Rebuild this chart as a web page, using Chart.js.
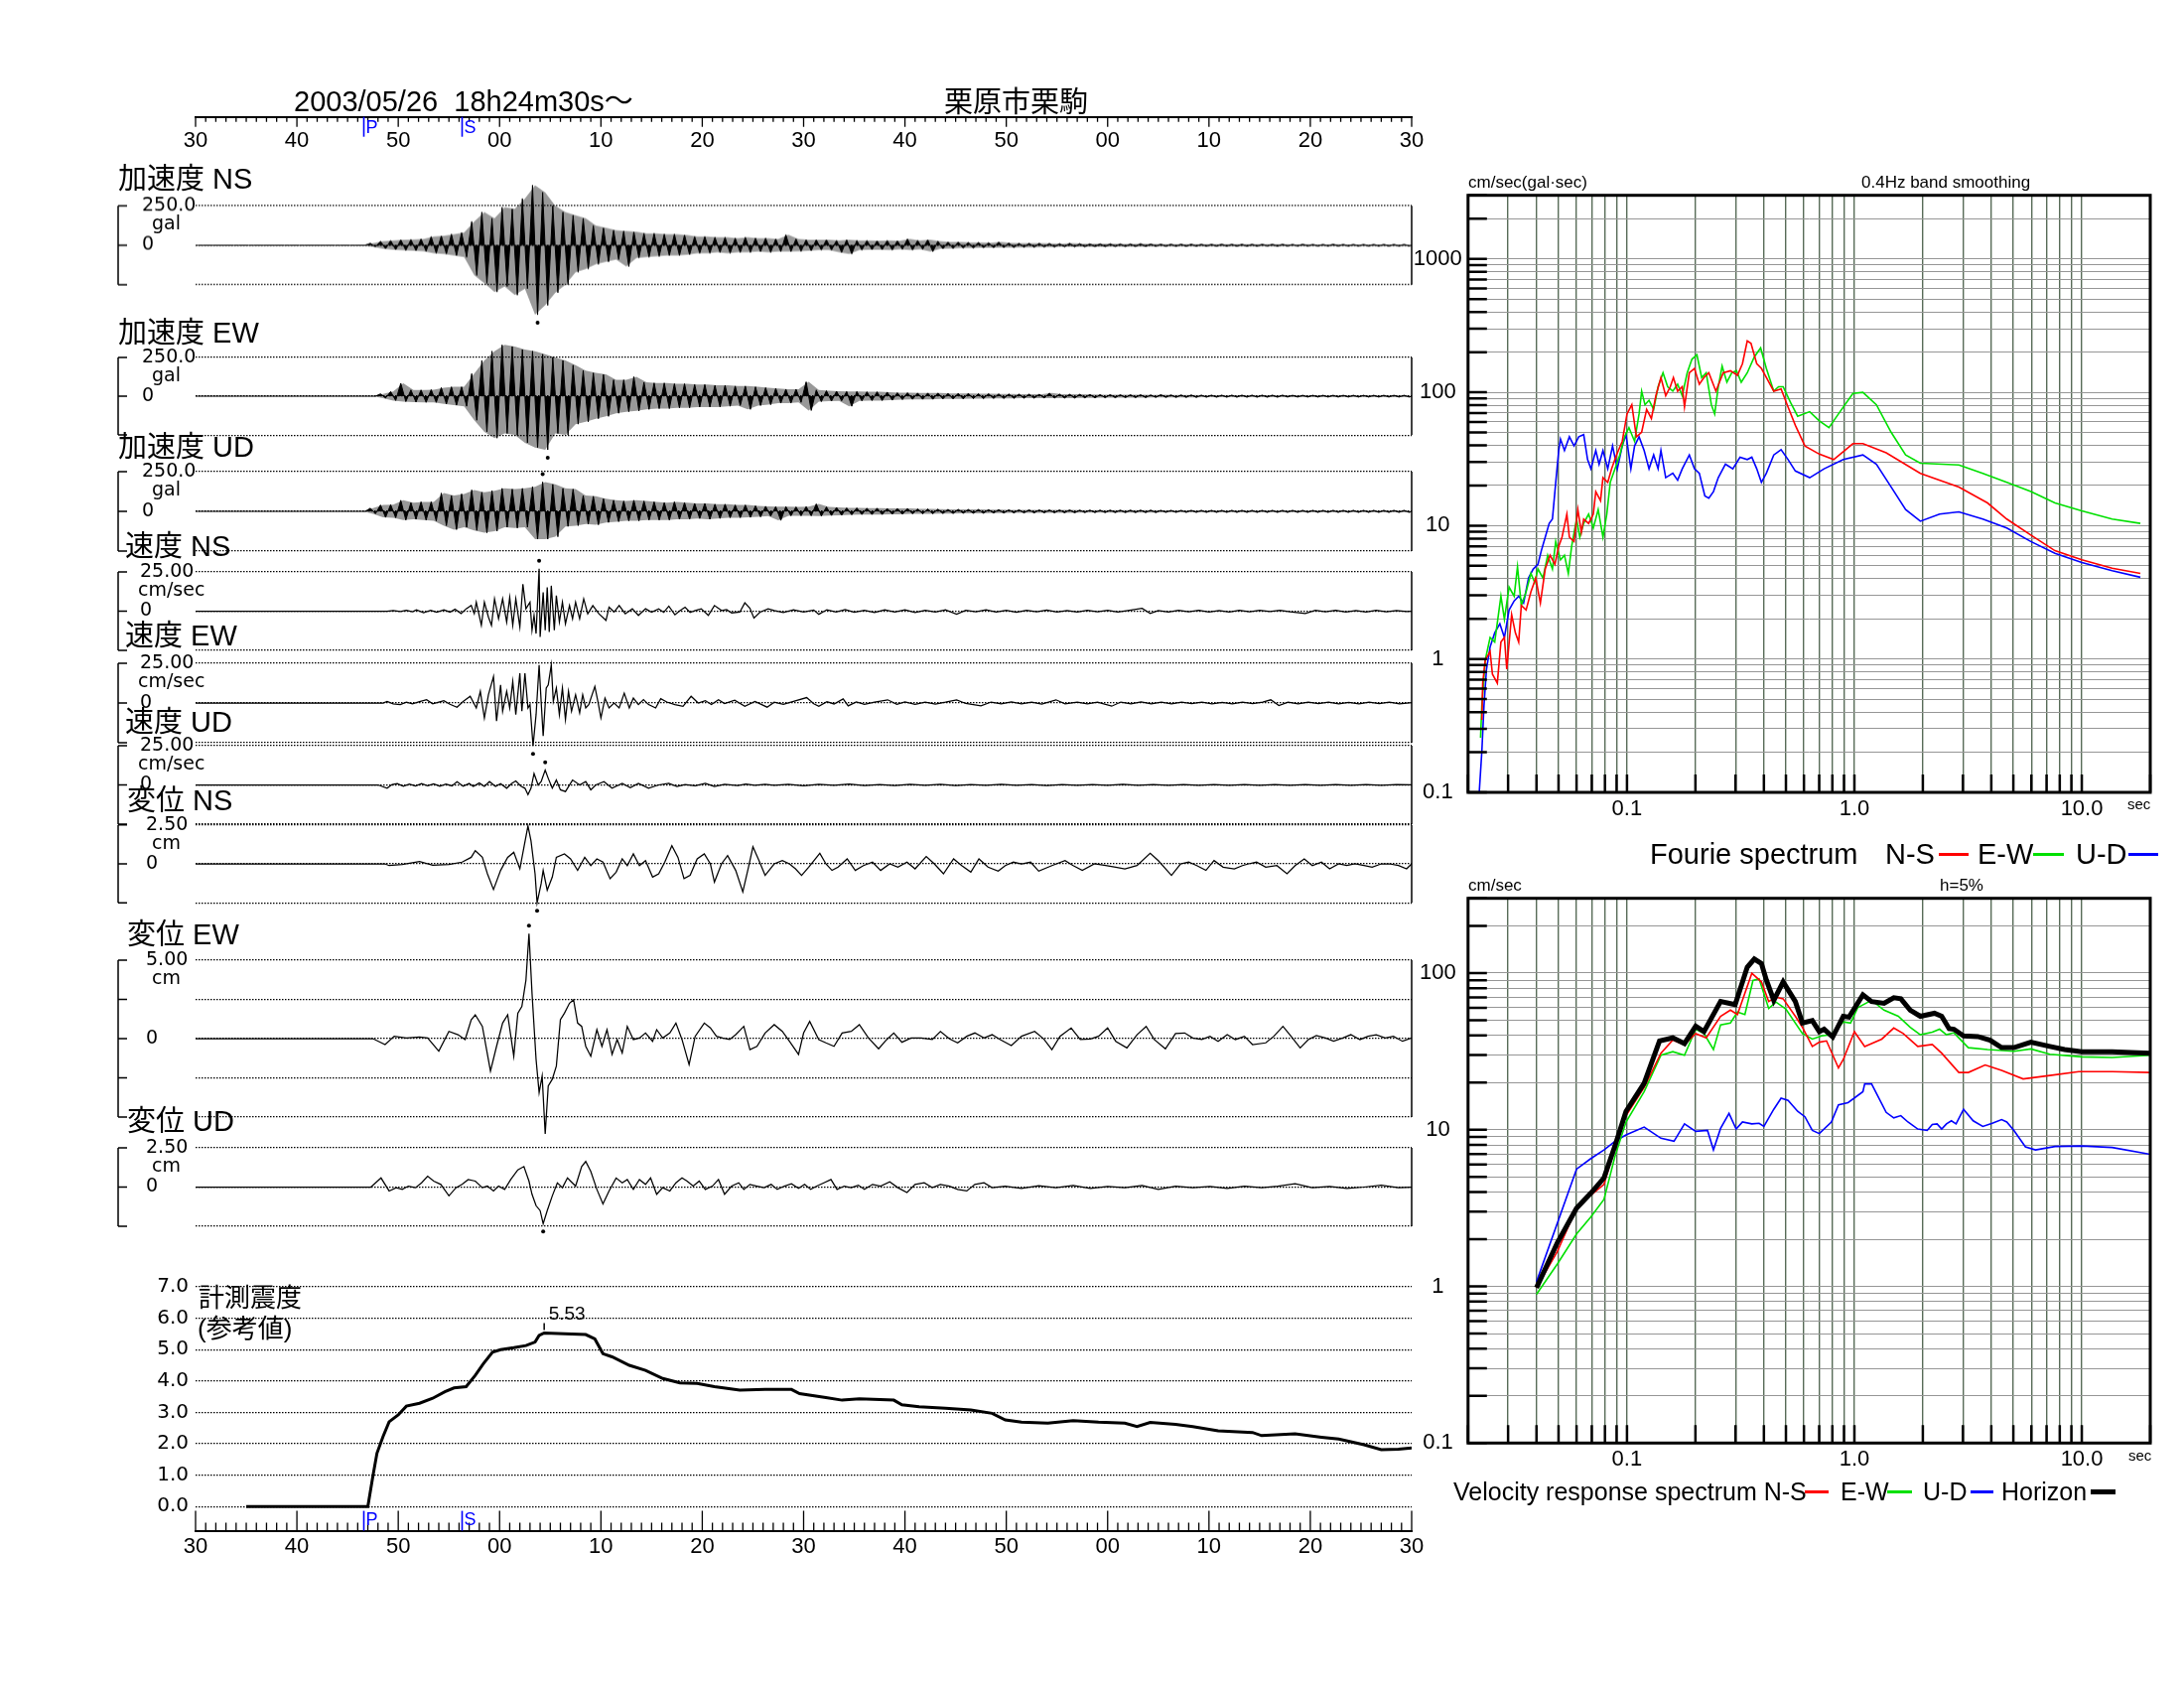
<!DOCTYPE html>
<html lang="ja">
<head>
<meta charset="utf-8">
<title>栗原市栗駒 2003/05/26</title>
<script src="https://cdn.jsdelivr.net/npm/chart.js@4.4.1/dist/chart.umd.min.js"></script>
<style>
  body { margin: 0; background: #fff; }
  #page { position: relative; width: 2200px; height: 1700px; overflow: hidden; background: #fff;
          font-family: "Liberation Sans", "Noto Sans CJK JP", sans-serif; }
  #page canvas { position: absolute; }
  .txt { position: absolute; white-space: pre; line-height: 1; color: #000; z-index: 5; }
  .bar { position: absolute; z-index: 5; }
</style>
</head>
<body>
<div id="page"></div>
<script>
// ---- time axis: seconds after 18h24m30s ----
const timeLabels = ['30','40','50','00','10','20','30','40','50','00','10','20','30'];
const phaseNames = ['P', 'S'];
const phaseTimes = [16.6, 26.3];

// ---- acceleration: per-second upper / lower peaks (gal) ----
const accNsHi = [0,0,0,0,0,0,0,0,0,0, 0,0,0,0,0,0,0,12,25,30,
  35,36,40,55,60,70,80,150,210,170, 240,230,295,380,335,250,210,190,170,125,
  110,95,90,85,75,75,70,70,65,55, 55,50,50,45,50,45,45,40,67,40,
  35,35,35,30,35,30,30,28,30,28, 40,30,35,25,20,20,18,18,16,20,
  14,12,12,12,11,10,12,10,9,9, 9,8,8,10,8,7,7,7,7,6,
  6,7,6,6,6,6,6,6,5,6, 5,5,6,5,5,5,5,5,5,5];
const accNsLo = [0,0,0,0,0,0,0,0,0,0, 0,0,0,0,0,0,0,-10,-22,-28,
  -32,-34,-38,-50,-55,-65,-75,-190,-240,-295, -260,-315,-275,-440,-380,-300,-250,-170,-150,-120,
  -105,-90,-135,-80,-75,-70,-65,-65,-60,-50, -50,-45,-50,-45,-45,-40,-45,-40,-40,-38,
  -35,-30,-30,-45,-55,-30,-28,-28,-30,-25, -30,-25,-40,-22,-20,-18,-18,-16,-16,-15,
  -14,-12,-12,-11,-11,-10,-10,-10,-9,-9, -8,-8,-8,-8,-7,-7,-7,-7,-6,-6,
  -6,-6,-6,-6,-6,-5,-6,-5,-5,-5, -5,-5,-5,-5,-5,-5,-5,-5,-5,-5];
const accEwHi = [0,0,0,0,0,0,0,0,0,0, 0,0,0,0,0,0,0,0,15,30,
  83,40,40,42,55,60,60,145,230,290, 330,320,300,290,270,250,230,200,165,150,
  140,105,105,125,90,85,85,80,80,75, 75,70,70,65,65,60,55,50,45,45,
  92,40,35,32,30,30,28,28,26,22, 22,20,20,20,18,18,18,16,16,15,
  14,13,13,12,20,13,12,12,11,10, 10,9,9,9,8,10,8,8,8,7,
  7,7,7,7,7,7,7,7,6,6, 6,6,6,6,6,6,6,6,6,6];
const accEwLo = [0,0,0,0,0,0,0,0,0,0, 0,0,0,0,0,0,0,0,-12,-28,
  -35,-38,-40,-40,-50,-58,-65,-155,-230,-270, -240,-250,-300,-330,-345,-240,-250,-180,-165,-145,
  -130,-110,-100,-95,-85,-80,-80,-75,-75,-70, -70,-70,-65,-60,-85,-60,-55,-45,-45,-40,
  -92,-35,-32,-30,-65,-30,-28,-28,-26,-22, -20,-20,-20,-18,-18,-18,-16,-16,-15,-15,
  -14,-13,-13,-12,-12,-12,-12,-11,-11,-10, -10,-9,-9,-9,-8,-8,-8,-8,-8,-7,
  -7,-7,-7,-7,-7,-7,-7,-6,-6,-6, -6,-6,-6,-6,-6,-6,-6,-6,-6,-6];
const accUdHi = [0,0,0,0,0,0,0,0,0,0, 0,0,0,0,0,0,0,20,40,42,
  70,55,60,60,115,100,110,135,120,130, 145,140,145,155,185,170,145,140,100,95,
  80,70,65,70,65,60,55,60,55,50, 50,45,45,40,40,35,32,30,30,28,
  30,47,28,25,22,22,20,20,18,18, 18,16,15,14,13,13,12,12,11,11,
  10,10,10,9,9,9,9,8,8,8, 8,8,8,8,8,7,7,7,7,7,
  7,7,7,7,7,7,7,7,7,7, 7,7,7,7,7,7,7,7,7,7];
const accUdLo = [0,0,0,0,0,0,0,0,0,0, 0,0,0,0,0,0,0,-15,-38,-40,
  -55,-50,-55,-60,-90,-115,-100,-120,-135,-125, -100,-105,-100,-175,-175,-160,-95,-90,-80,-85,
  -70,-65,-60,-60,-55,-55,-55,-50,-50,-45, -50,-45,-40,-40,-38,-35,-30,-57,-28,-28,
  -28,-30,-26,-25,-22,-20,-20,-20,-18,-18, -16,-16,-15,-14,-14,-12,-12,-12,-11,-11,
  -10,-10,-10,-9,-9,-9,-9,-8,-8,-8, -8,-8,-8,-8,-8,-7,-7,-7,-7,-7,
  -7,-7,-7,-7,-7,-7,-7,-7,-7,-7, -7,-7,-7,-7,-7,-7,-7,-7,-7,-7];

// ---- velocity (cm/sec): [seconds, value] turning points ----
const velNS = [[0,0],[18.9,0],[19.5,0.4],[20.2,-0.3],[20.8,0.5],[21.4,-0.4],[21.8,0.9],[22.5,-1.0],[23.2,0.6],[23.8,-0.7],[24.5,0.8],[25.1,-0.6],[25.6,1.2],[26.2,-1.5],[26.7,1.5],[27.2,3.6],[27.5,-1.5],[27.7,5.7],[28.2,-9.0],[28.5,5.7],[28.9,-3.8],[29.2,-9.0],[29.5,7.8],[29.9,-4.8],[30.3,7.8],[30.7,-6.9],[31.0,8.8],[31.3,-9.0],[31.6,7.8],[32.0,-10.1],[32.3,17.2],[32.6,1.5],[33.0,5.7],[33.2,-12.2],[33.4,-2.7],[33.6,-14.3],[33.9,27.1],[34.0,-16.4],[34.3,12.0],[34.5,-12.2],[34.7,15.1],[34.9,-13.2],[35.1,16.2],[35.4,-12.2],[35.6,9.9],[35.9,-6.9],[36.2,5.7],[36.5,-8.0],[36.9,3.6],[37.2,-4.8],[37.5,5.7],[37.9,-4.8],[38.3,7.8],[38.7,-1.7],[39.2,3.6],[39.8,-1.7],[40.5,-5.9],[40.8,2.5],[41.3,-0.5],[41.8,3.6],[42.4,-1.7],[43.1,1.5],[43.7,-2.7],[44.4,1.5],[45.0,-0.6],[45.7,1.5],[46.2,-0.8],[46.7,3.2],[47.3,-2.3],[47.8,0.3],[48.3,2.5],[48.8,-0.8],[49.3,0.4],[49.9,1.5],[50.6,-2.7],[51.2,3.6],[51.9,0.4],[52.4,1.0],[52.9,-1.1],[53.7,-0.6],[54.2,5.3],[54.7,1.9],[55.1,-4.4],[55.7,-0.6],[56.5,1.5],[57.1,0.4],[58.0,-0.8],[59.0,0.9],[60.0,-0.5],[61.0,0.7],[61.5,-2.0],[62.3,0.9],[63.2,-0.6],[64.1,1.0],[65.0,-0.7],[66.0,0.6],[67.0,-0.9],[68.0,0.8],[69.0,-0.5],[70.0,0.9],[71.0,-0.8],[72.0,0.6],[73.0,-0.6],[74.0,0.8],[75.1,-2.0],[76.0,0.5],[77.0,-0.4],[78.0,0.8],[79.0,-0.6],[80.0,0.5],[81.0,-0.7],[82.0,0.6],[83.0,-0.4],[84.0,0.7],[85.0,-0.5],[86.0,0.4],[87.0,-0.6],[88.0,0.5],[89.0,-0.4],[90.0,0.6],[91.0,-0.5],[92.0,0.4],[93.4,1.8],[94.2,-1.5],[95.0,0.4],[96.0,-0.5],[97.0,0.6],[98.0,-0.4],[99.0,0.5],[100,-0.5],[101,0.4],[102,-0.6],[103,0.5],[104,-0.4],[105,0.6],[106,-0.3],[107,0.5],[108,-0.4],[109.5,-1.5],[110.5,0.6],[111.5,-0.4],[112.5,0.5],[113.5,-0.5],[114.5,0.4],[115.5,-0.5],[116.5,0.5],[117.5,-0.4],[118.5,0.4],[119.5,-0.3],[120,0]];
const velEW = [[0,0],[18.5,0],[18.9,1.0],[19.5,-0.5],[20.2,-1.0],[20.8,0.5],[21.4,-0.6],[22.1,0.8],[22.8,2.1],[23.4,-0.5],[24.0,0.6],[24.5,1.5],[25.1,-0.8],[25.8,-2.7],[26.4,0.9],[27.1,4.2],[27.7,-3.1],[28.1,7.3],[28.5,-9.4],[28.9,5.2],[29.4,16.6],[29.7,-11.4],[30.1,11.4],[30.3,-5.2],[30.7,7.3],[31.0,-3.1],[31.3,13.5],[31.6,-7.3],[32.0,18.7],[32.2,-5.2],[32.5,18.7],[32.8,-3.1],[33.0,-1.0],[33.3,-27.0],[33.6,-7.3],[33.9,23.9],[34.1,1.0],[34.3,-20.8],[34.6,9.4],[34.8,11.4],[35.1,24.0],[35.3,1.0],[35.6,9.4],[35.9,-7.3],[36.2,9.4],[36.5,-10.4],[36.8,7.3],[37.1,-5.2],[37.5,5.2],[37.9,-6.2],[38.2,5.2],[38.5,-3.1],[38.8,-1.0],[39.4,10.4],[39.7,1.0],[40.0,-9.4],[40.4,3.1],[40.8,-3.1],[41.3,0],[41.8,-3.1],[42.3,6.2],[42.8,-3.1],[43.2,3.1],[43.7,-1.0],[44.2,2.1],[44.7,-1.0],[45.4,-3.1],[45.9,2.7],[46.5,0.6],[47.3,-1.0],[48.1,-2.1],[48.9,4.2],[49.6,0],[50.3,1.5],[50.9,-1.0],[51.6,2.1],[52.2,-0.4],[53.2,1.7],[54.2,-2.1],[55.2,1.0],[56.4,-2.6],[57.1,0.5],[58.0,-0.8],[59.0,1.0],[60.3,3.4],[61.0,-0.5],[61.5,-2.0],[62.3,0.8],[63.0,-0.6],[63.9,2.6],[64.4,-1.8],[65.2,0.7],[66.0,-0.8],[67.0,0.6],[68.3,2.0],[69.2,-0.8],[70.0,0.7],[71.0,-0.9],[72.0,0.6],[73.0,-0.7],[74.0,0.5],[75.1,2.0],[76.0,-0.3],[77.5,-1.8],[78.5,0.6],[79.5,-0.6],[80.5,0.7],[81.5,-0.5],[82.5,0.6],[83.5,-0.7],[84.9,2.0],[85.8,-0.5],[87.0,0.6],[88.0,-0.6],[89.0,0.5],[90.4,-2.0],[91.3,0.6],[92.3,-0.5],[93.3,0.7],[94.3,-0.6],[95.3,0.5],[96.3,-0.5],[97.3,0.6],[98.3,-0.4],[99.3,0.5],[100.3,-0.6],[101.3,0.4],[102.3,-0.5],[103.3,0.6],[104.3,-0.4],[105.3,0.5],[106.1,2.0],[106.9,-1.6],[107.8,0.5],[108.8,-0.5],[109.8,0.6],[110.8,-0.4],[111.8,0.5],[112.8,-0.6],[113.8,0.4],[114.8,-0.5],[115.8,0.6],[116.8,-0.4],[117.8,0.5],[118.8,-0.5],[120,0.3]];
const velUD = [[0,0],[18.0,0],[18.9,-2.1],[19.4,0.3],[19.9,0.8],[20.5,-0.9],[21.1,0.6],[21.7,-0.7],[22.3,0.9],[22.9,-0.5],[23.5,0.7],[24.1,-0.8],[24.7,0.6],[25.3,-0.6],[25.8,2.1],[26.4,-0.8],[27.0,0.9],[27.4,-1.0],[28.0,1.2],[28.5,-0.9],[29.0,2.1],[29.6,-1.0],[30.1,0.8],[30.7,-2.1],[31.2,0.9],[31.6,2.5],[32.1,-0.8],[32.5,-2.1],[32.8,-6.2],[33.1,-2.1],[33.4,7.3],[33.8,0],[34.1,2.1],[34.5,9.4],[34.8,4.2],[35.2,-2.1],[35.6,3.1],[36.0,-3.1],[36.5,-4.2],[37.2,3.1],[37.9,0],[38.5,2.1],[39.0,-3.1],[39.5,0],[40.3,2.1],[41.1,-2.1],[42.1,1.0],[42.9,-1.7],[43.7,1.0],[44.7,-2.1],[45.7,0],[46.7,1.0],[47.5,-1.0],[48.3,0.3],[49.3,-0.6],[50.3,1.0],[51.2,-1.0],[52.2,0.4],[53.5,-0.4],[54.3,0.5],[55.2,-0.3],[56.2,0.4],[57.1,-0.3],[58.5,0.4],[60,-0.5],[61.5,0.4],[63,-0.3],[64.5,0.5],[66,-0.4],[67.5,0.3],[69,-0.4],[70.5,0.4],[72,-0.3],[73.5,0.4],[75,-0.4],[76.5,0.3],[78,-0.3],[79.5,0.4],[81,-0.3],[82.5,0.3],[84,-0.4],[85.5,0.3],[87,-0.3],[88.5,0.3],[90,-0.3],[91.5,0.4],[93,-0.3],[94.5,0.3],[96,-0.3],[97.5,0.3],[99,-0.3],[100.5,0.3],[102,-0.3],[103.5,0.3],[105,-0.3],[106.5,0.3],[108,-0.3],[109.5,0.3],[111,-0.3],[112.5,0.3],[114,-0.3],[115.5,0.3],[117,-0.3],[118.5,0.3],[120,0]];

// ---- displacement (cm): [seconds, value] turning points ----
const dispNS = [[0,0],[18.7,0],[19.1,-0.11],[20.4,-0.04],[22.1,0.15],[23.4,-0.08],[25.0,-0.04],[26.3,0.11],[27.2,0.42],[27.6,0.85],[28.3,0.42],[28.8,-0.64],[29.4,-1.65],[30.1,-0.42],[30.8,0.42],[31.4,0.74],[32.0,-0.32],[32.4,1.06],[32.8,2.44],[33.1,1.48],[33.5,-0.64],[33.7,-2.5],[34.1,-1.27],[34.3,-0.42],[34.7,-1.69],[35.2,-0.85],[35.6,0.42],[36.4,0.64],[37.0,0.32],[37.7,-0.42],[38.4,0.42],[39.0,-0.11],[39.6,0.32],[40.2,0.11],[40.9,-0.95],[41.5,-0.53],[42.1,0.32],[42.6,-0.11],[43.2,0.64],[43.8,-0.11],[44.4,0.21],[45.1,-0.85],[45.7,-0.64],[46.3,0.11],[47.0,1.17],[47.6,0.42],[48.2,-0.95],[48.8,-0.74],[49.5,0.32],[50.2,0.64],[50.8,0],[51.2,-1.17],[51.9,0],[52.5,0.53],[53.3,-0.42],[54.0,-1.80],[54.6,-0.11],[55.0,1.10],[55.6,0.21],[56.2,-0.74],[57.1,0],[57.9,0.21],[58.6,0],[59.2,-0.32],[59.8,-0.74],[60.5,-0.21],[61.6,0.68],[62.2,0],[62.8,-0.42],[63.4,-0.21],[64.3,0.32],[65.1,-0.42],[65.9,-0.11],[66.8,0.11],[67.6,-0.42],[68.5,0],[69.3,-0.21],[70.2,0.11],[71.0,-0.32],[72.1,0.47],[72.9,0],[73.8,-0.64],[74.8,0.32],[75.6,-0.11],[76.5,-0.53],[77.3,0.32],[78.2,-0.21],[79.2,-0.47],[79.9,-0.11],[80.7,0.11],[81.5,0],[82.4,0.11],[83.2,-0.47],[84.5,-0.11],[85.8,0.21],[86.6,-0.11],[87.5,-0.42],[88.7,0],[89.8,-0.11],[90.8,-0.21],[91.7,-0.32],[92.9,-0.11],[94.2,0.68],[95.0,0.21],[96.3,-0.74],[97.2,0],[98.0,0.11],[98.8,-0.11],[99.7,-0.42],[100.5,0.21],[101.4,-0.21],[102.5,-0.32],[103.3,-0.11],[103.9,0],[104.7,0.11],[105.6,-0.21],[106.7,-0.11],[107.7,-0.64],[108.5,-0.11],[109.4,0.32],[110.2,-0.11],[111.1,0.11],[111.9,-0.32],[112.8,0],[113.6,-0.11],[114.4,0],[115.3,-0.11],[116.1,-0.21],[117.0,0],[117.8,0],[118.7,-0.11],[119.5,-0.32],[120,0]];
const dispEW = [[0,0],[17.5,0],[18.7,-0.38],[19.6,0.15],[20.8,0.04],[22.1,0.11],[22.9,0.04],[24.0,-0.80],[25.0,0.46],[25.9,0.25],[26.6,-0.06],[27.2,1.20],[27.6,1.52],[28.3,0.78],[29.1,-2.07],[29.7,-0.49],[30.3,0.99],[30.8,1.52],[31.4,-1.12],[31.8,1.62],[32.2,2.05],[32.6,3.73],[32.9,6.69],[33.2,2.89],[33.6,-1.33],[33.9,-3.44],[34.2,-2.38],[34.5,-6.08],[34.8,-3.02],[35.2,-2.59],[35.6,-1.75],[36.0,1.20],[36.4,1.62],[36.9,2.26],[37.3,2.47],[37.7,0.99],[38.1,0.78],[38.5,-0.49],[39.0,-1.12],[39.6,0.57],[40.1,-0.49],[40.6,0.57],[41.1,-1.01],[41.6,-0.06],[42.1,-0.91],[42.6,0.78],[43.2,-0.06],[43.8,0.04],[44.4,0.36],[45.1,-0.17],[45.5,0.57],[46.1,0.04],[46.8,0.36],[47.4,0.99],[48.0,-0.06],[48.7,-1.65],[49.3,0.15],[50.2,0.99],[50.8,0.68],[51.4,0.15],[52.0,0.04],[52.7,-0.06],[53.3,0.25],[54.1,0.78],[54.7,-0.70],[55.4,-0.49],[56.2,0.36],[57.1,0.89],[57.9,0.46],[58.6,-0.17],[59.5,-1.01],[60.0,0.36],[60.6,1.10],[61.5,-0.06],[62.2,-0.27],[63.0,-0.49],[63.8,0.36],[64.7,0.46],[65.5,0.89],[66.4,0.04],[67.4,-0.65],[68.2,-0.06],[68.9,0.36],[69.7,-0.23],[70.6,0.04],[71.6,0.04],[72.7,-0.06],[73.5,0.46],[74.4,-0.02],[75.2,-0.27],[76.1,0.15],[76.9,0.36],[77.8,0.04],[78.6,0.25],[79.4,-0.06],[80.5,-0.44],[81.5,0.15],[82.8,0.46],[83.7,-0.02],[84.5,-0.70],[85.3,0.15],[86.4,0.68],[87.3,-0.06],[88.3,-0.02],[89.1,0.15],[90.0,0.68],[90.8,-0.17],[91.9,-0.59],[92.9,0.25],[93.8,0.78],[94.6,-0.06],[95.7,-0.65],[96.7,0.32],[97.6,0.36],[98.4,0.04],[99.3,-0.06],[100.1,0.15],[100.9,-0.17],[101.8,0.25],[102.6,-0.06],[103.5,0.15],[104.3,-0.38],[105.6,-0.27],[106.4,0.15],[107.3,0.78],[108.1,0.15],[109.0,-0.59],[109.8,-0.06],[110.6,0.19],[111.5,0.04],[112.3,-0.17],[113.2,0.04],[114.0,0.25],[114.9,-0.06],[115.7,0.15],[116.5,0.25],[117.4,0.04],[118.2,0.15],[119.1,-0.17],[120,0.04]];
const dispUD = [[0,0],[17.3,0],[17.6,0.17],[18.3,0.58],[19.1,-0.25],[19.8,-0.04],[20.4,-0.15],[21.0,0.06],[21.7,-0.04],[22.3,0.27],[22.9,0.69],[23.5,0.38],[24.2,0.17],[25.0,-0.56],[25.7,-0.04],[26.3,0.17],[26.9,0.48],[27.6,0.38],[28.3,-0.04],[28.8,0.06],[29.4,-0.25],[29.9,0.06],[30.5,-0.15],[31.1,0.48],[31.8,1.10],[32.4,1.31],[32.9,0.38],[33.2,-0.46],[33.6,-1.19],[34.0,-1.50],[34.3,-2.33],[34.7,-1.50],[35.2,-0.56],[35.7,0.27],[36.2,-0.04],[36.7,0.58],[37.0,0.38],[37.5,0.06],[38.1,1.31],[38.5,1.63],[39.0,1.00],[39.6,-0.15],[40.2,-1.08],[40.8,-0.25],[41.5,0.58],[42.1,0.27],[42.6,0.48],[43.2,-0.15],[43.8,0.48],[44.4,0.17],[44.9,0.58],[45.5,-0.46],[46.1,-0.04],[46.8,-0.25],[47.4,0.27],[48.0,0.58],[48.5,0.38],[49.1,0.06],[49.7,0.38],[50.3,-0.15],[51.0,0.06],[51.6,0.48],[52.2,-0.46],[52.9,0.06],[53.6,0.27],[54.1,-0.15],[54.7,0.17],[55.4,0.06],[56.1,-0.04],[56.8,0.17],[57.4,-0.15],[58.1,0.06],[58.8,0.21],[59.5,-0.08],[60.1,0.17],[60.7,-0.15],[61.3,0.06],[62.0,0.27],[62.7,0.48],[63.3,-0.15],[64.0,0.06],[64.7,-0.04],[65.4,0.12],[66.0,-0.15],[66.8,0.17],[67.6,0.06],[68.5,0.33],[69.3,-0.04],[70.2,-0.35],[71.0,0.17],[71.9,0.27],[72.7,-0.04],[73.5,0.17],[74.4,0.06],[75.2,-0.15],[76.1,-0.25],[76.9,0.17],[77.8,0.27],[78.6,-0.04],[79.9,0.06],[81.5,-0.08],[83.2,0.08],[84.9,-0.04],[86.6,0.10],[88.3,-0.08],[90.0,0.04],[91.7,-0.04],[93.4,0.10],[95.0,-0.15],[96.7,0.06],[98.4,-0.04],[100.1,0.04],[101.8,-0.08],[103.5,0.06],[105.2,-0.04],[106.8,0.06],[108.5,0.21],[110.2,-0.04],[111.9,0.04],[113.6,-0.08],[115.3,0],[117.0,0.12],[118.7,-0.04],[120,0]];

// ---- seismic intensity (reference value) ----
const intensityTicks = [0, 1, 2, 3, 4, 5, 6, 7];
const intensity = [[5,0],[17.0,0],[17.5,0.97],[17.9,1.7],[18.5,2.23],[19.1,2.7],[20.0,2.92],[20.8,3.2],[22.1,3.29],[23.4,3.45],[24.6,3.66],[25.5,3.78],[26.7,3.82],[27.6,4.18],[28.4,4.55],[29.3,4.92],[30.1,5.0],[31.4,5.06],[32.6,5.13],[33.5,5.24],[33.9,5.45],[34.4,5.53],[38.5,5.48],[39.4,5.34],[40.2,4.87],[41.1,4.77],[42.8,4.5],[44.4,4.34],[46.1,4.08],[47.8,3.94],[49.5,3.92],[51.2,3.82],[53.7,3.71],[56.2,3.73],[58.8,3.73],[59.6,3.6],[62.2,3.47],[63.8,3.39],[65.5,3.43],[68.9,3.39],[69.7,3.24],[71.4,3.18],[74.0,3.13],[76.5,3.08],[78.6,2.97],[79.9,2.76],[81.5,2.69],[84.1,2.66],[86.6,2.74],[89.1,2.69],[91.7,2.66],[92.9,2.55],[94.2,2.68],[96.7,2.62],[98.4,2.55],[100.9,2.41],[104.3,2.36],[105.2,2.26],[108.5,2.32],[111.1,2.21],[112.8,2.15],[115.3,1.97],[117.0,1.81],[118.7,1.83],[120,1.87]];

// ---- Fourier spectrum: [period sec, cm/sec] ----
const fourierNS = [[0.0230,0.35],[0.0232,0.66],[0.0238,0.98],[0.0250,1.14],[0.0256,0.77],[0.0269,0.66],[0.0279,1.34],[0.0289,1.45],[0.0296,0.84],[0.0311,2.15],[0.0323,1.57],[0.0334,1.34],[0.0343,2.52],[0.0360,2.33],[0.0378,3.19],[0.0397,4.05],[0.0416,2.63],[0.0437,4.73],[0.0459,6.0],[0.0482,5.12],[0.0501,7.0],[0.0518,8.2],[0.0544,12.2],[0.0558,8.2],[0.0585,7.6],[0.0608,13.2],[0.0630,8.9],[0.0645,11.2],[0.0678,10.4],[0.0711,12.2],[0.0729,18.0],[0.0765,15.4],[0.0784,22.9],[0.0823,21.1],[0.0856,26.7],[0.0899,33.9],[0.0953,42.9],[0.100,68.8],[0.105,80.6],[0.110,46.4],[0.116,50.2],[0.122,74.5],[0.128,63.6],[0.134,94.3],[0.141,129],[0.148,94.3],[0.155,110],[0.160,129],[0.167,102],[0.175,110],[0.179,77.5],[0.188,140],[0.198,151],[0.208,115],[0.218,129],[0.229,140],[0.246,102],[0.265,140],[0.285,145],[0.306,134],[0.322,164],[0.338,243],[0.351,233],[0.372,164],[0.390,151],[0.410,129],[0.442,102],[0.476,106],[0.511,77.5],[0.550,56.5],[0.606,39.6],[0.701,34.4],[0.811,31.3],[0.985,41.2],[1.09,41.2],[1.38,35.2],[1.95,24.7],[2.88,19.5],[3.85,14.8],[4.68,11.2],[5.97,8.5],[7.62,6.49],[10.0,5.54],[13.6,4.8],[18.1,4.38]];
const fourierEW = [[0.0227,0.257],[0.0230,0.447],[0.0238,0.98],[0.0250,1.45],[0.0262,1.34],[0.0279,2.96],[0.0289,1.99],[0.0303,3.46],[0.0319,2.96],[0.0330,4.92],[0.0343,2.52],[0.0360,3.19],[0.0378,4.38],[0.0393,3.74],[0.0406,4.73],[0.0427,4.05],[0.0448,6.0],[0.0470,4.73],[0.0486,7.6],[0.0510,5.54],[0.0531,6.0],[0.0552,4.38],[0.0571,7.0],[0.0600,11.2],[0.0620,8.2],[0.0645,10.4],[0.0678,12.2],[0.0711,9.6],[0.0747,13.2],[0.0784,8.2],[0.0815,12.2],[0.0844,21.1],[0.0886,26.7],[0.0930,33.9],[0.0976,46.4],[0.102,54.3],[0.108,42.9],[0.113,68.8],[0.116,102],[0.120,80.6],[0.125,87.2],[0.131,74.5],[0.137,110],[0.144,140],[0.151,110],[0.159,102],[0.167,115],[0.175,94.3],[0.184,140],[0.193,177],[0.203,191],[0.213,129],[0.223,140],[0.235,80.6],[0.243,68.8],[0.252,110],[0.262,157],[0.275,119],[0.289,140],[0.303,145],[0.318,119],[0.338,140],[0.363,184],[0.387,215],[0.410,151],[0.442,102],[0.464,110],[0.486,110],[0.524,83.8],[0.563,66.1],[0.636,71.6],[0.701,61.1],[0.773,54.3],[0.851,68.8],[0.985,98.1],[1.09,100],[1.25,80.6],[1.45,50.2],[1.68,33.9],[1.95,29.4],[2.88,28.5],[3.67,24.7],[4.68,21.1],[5.97,18.0],[7.62,14.8],[10.0,12.9],[13.6,11.2],[18.1,10.4]];
const fourierUD = [[0.0224,0.1],[0.0230,0.203],[0.0235,0.447],[0.0241,0.836],[0.0250,1.23],[0.0262,1.57],[0.0276,1.84],[0.0289,1.45],[0.0303,2.33],[0.0319,2.73],[0.0334,2.96],[0.0351,2.63],[0.0369,4.05],[0.0387,4.73],[0.0406,5.12],[0.0420,6.49],[0.0437,8.2],[0.0455,10.4],[0.0470,11.2],[0.0486,21.1],[0.0501,36.6],[0.0510,44.6],[0.0531,36.6],[0.0558,46.4],[0.0585,39.6],[0.0614,46.4],[0.0645,48.2],[0.0671,31.3],[0.0694,26.7],[0.0729,36.6],[0.0754,28.9],[0.0784,36.6],[0.0823,26.7],[0.0864,39.6],[0.0907,26.7],[0.0953,39.6],[0.0990,48.2],[0.104,26.7],[0.108,39.6],[0.113,46.4],[0.119,36.6],[0.125,26.7],[0.131,33.9],[0.137,26.7],[0.141,36.6],[0.148,22.9],[0.159,24.7],[0.167,21.9],[0.175,26.7],[0.188,33.9],[0.198,26.7],[0.208,24.7],[0.220,16.7],[0.229,16.1],[0.240,18.0],[0.252,22.9],[0.271,28.9],[0.292,26.7],[0.314,32.6],[0.338,31.3],[0.354,32.6],[0.372,26.7],[0.390,21.1],[0.410,24.7],[0.442,33.9],[0.476,37.2],[0.511,31.3],[0.550,25.7],[0.636,22.9],[0.736,26.7],[0.894,31.3],[1.09,33.9],[1.25,28.9],[1.45,19.5],[1.68,13.2],[1.95,10.8],[2.37,12.2],[2.88,12.7],[3.67,11.2],[4.68,9.6],[5.97,7.6],[7.62,6.2],[10.0,5.3],[13.6,4.6],[18.1,4.1]];

// ---- velocity response spectrum h=5%: [period sec, cm/sec] ----
const respH = [[0.040,0.98],[0.0494,1.90],[0.060,3.16],[0.0694,3.94],[0.0792,4.92],[0.0886,7.92],[0.099,13.1],[0.119,19.8],[0.139,36.9],[0.159,38.6],[0.179,35.5],[0.2005,45.8],[0.218,42.3],[0.258,65.8],[0.299,62.9],[0.338,109],[0.363,123],[0.390,115],[0.410,90.3],[0.442,67.0],[0.486,87.9],[0.550,65.8],[0.591,48.0],[0.653,49.7],[0.701,42.3],[0.736,43.8],[0.803,39.1],[0.894,53.0],[0.947,52.3],[1.09,72.7],[1.19,65.8],[1.35,64.1],[1.49,69.6],[1.60,68.5],[1.76,58.0],[1.95,53.0],[2.25,55.4],[2.42,53.0],[2.61,44.2],[2.74,43.8],[3.02,39.7],[3.49,39.3],[3.95,37.3],[4.44,33.4],[5.03,33.4],[5.97,36.2],[7.24,34.0],[8.40,32.5],[10,31.5],[13.6,31.5],[20,30.8]];
const respNS = [[0.040,0.98],[0.0494,1.67],[0.060,3.16],[0.0694,3.82],[0.0792,4.48],[0.0886,7.7],[0.099,12.3],[0.119,18.6],[0.141,30.8],[0.159,37.3],[0.179,35.0],[0.2005,41.1],[0.223,38.6],[0.258,53.0],[0.285,58.0],[0.306,54.4],[0.354,99.8],[0.390,87.9],[0.420,65.8],[0.452,70.1],[0.486,68.5],[0.550,53.0],[0.591,45.0],[0.653,34.0],[0.701,36.2],[0.754,36.9],[0.851,24.8],[0.894,28.1],[1.0,42.3],[1.11,34.0],[1.32,37.9],[1.49,44.6],[1.64,41.1],[1.90,34.0],[2.20,35.0],[2.42,30.8],[2.88,23.2],[3.17,23.2],[3.76,25.9],[4.44,23.9],[5.52,21.1],[7.24,22.2],[9.7,23.5],[13.6,23.5],[20,23.2]];
const respEW = [[0.040,0.89],[0.0494,1.39],[0.060,2.16],[0.0694,2.78],[0.0792,3.59],[0.0886,6.78],[0.099,11.2],[0.119,17.5],[0.141,29.9],[0.159,31.5],[0.179,29.9],[0.2005,43.8],[0.218,41.1],[0.240,32.5],[0.258,46.7],[0.285,48.0],[0.306,56.4],[0.330,54.4],[0.358,89.6],[0.381,91.9],[0.420,59.4],[0.452,65.3],[0.499,59.0],[0.591,41.1],[0.653,37.9],[0.718,39.7],[0.792,40.4],[0.894,48.8],[0.962,48.0],[1.034,60.1],[1.19,67.0],[1.35,58.0],[1.56,53.0],[1.76,45.0],[1.95,40.4],[2.20,41.9],[2.37,43.8],[2.54,40.4],[2.74,41.6],[3.17,33.4],[3.85,32.5],[5.03,31.7],[5.97,32.8],[7.24,30.3],[10,29.2],[13.6,28.9],[20,29.9]];
const respUD = [[0.040,1.07],[0.060,5.6],[0.0694,6.55],[0.0792,7.43],[0.0886,8.44],[0.099,9.27],[0.119,10.4],[0.141,8.82],[0.161,8.44],[0.179,10.9],[0.2005,9.76],[0.226,9.9],[0.240,7.43],[0.258,10.2],[0.281,12.7],[0.302,10.1],[0.322,11.2],[0.354,10.9],[0.381,11.0],[0.400,10.5],[0.442,13.5],[0.476,15.9],[0.511,15.4],[0.563,13.1],[0.606,12.1],[0.653,9.9],[0.701,9.45],[0.792,11.2],[0.851,14.4],[0.938,14.9],[1.09,17.5],[1.11,19.6],[1.19,19.6],[1.38,12.9],[1.49,11.9],[1.60,12.3],[1.72,11.2],[1.90,10.1],[2.09,9.9],[2.20,10.8],[2.31,10.9],[2.42,10.1],[2.54,10.9],[2.67,11.4],[2.80,10.9],[3.02,13.5],[3.33,11.4],[3.67,10.5],[4.04,11.0],[4.44,11.6],[4.68,11.2],[5.03,9.9],[5.65,7.77],[6.26,7.43],[7.62,7.82],[10,7.87],[13.6,7.7],[20,6.97]];

// ---- spectrum tick labels ----
const periodTickVals = [0.1, 1, 10];
const periodTickText = ['0.1', '1.0', '10.0'];
const fourierTickVals = [0.1, 1, 10, 100, 1000];
const fourierTickText = ['0.1', '1', '10', '100', '1000'];
const respTickVals = [0.1, 1, 10, 100];
const respTickText = ['0.1', '1', '10', '100'];

Chart.defaults.color = '#000';
Chart.defaults.font.family = '"Liberation Sans", Arial, sans-serif';
Chart.defaults.animation = false;
Chart.defaults.responsive = false;
Chart.defaults.maintainAspectRatio = false;
Chart.defaults.events = [];
Chart.defaults.plugins.legend.display = false;
Chart.defaults.plugins.tooltip.enabled = false;

const page = document.getElementById('page');
const WAVE_LEFT = 100;   // left edge of the waveform canvases

function makeCanvas(left, top, w, h) {
  const c = document.createElement('canvas');
  c.width = w;
  c.height = h;
  c.style.left = left + 'px';
  c.style.top = top + 'px';
  c.style.width = w + 'px';
  c.style.height = h + 'px';
  page.appendChild(c);
  return c.getContext('2d');
}

function addText(str, left, cy, size, family, color) {
  const d = document.createElement('div');
  d.className = 'txt';
  d.textContent = str;
  d.style.left = left + 'px';
  d.style.top = (cy - size / 2) + 'px';
  d.style.fontSize = size + 'px';
  if (family) d.style.fontFamily = family;
  if (color) d.style.color = color;
  page.appendChild(d);
}

function addBar(left, cy, w, h, color) {
  const d = document.createElement('div');
  d.className = 'bar';
  d.style.left = left + 'px';
  d.style.top = (cy - h / 2) + 'px';
  d.style.width = w + 'px';
  d.style.height = h + 'px';
  d.style.background = color;
  page.appendChild(d);
}

// per-second peaks -> envelope line (one point in the middle of each second)
function envelope(peaks) {
  const pts = peaks.map((v, i) => ({x: i + 0.5, y: v}));
  pts.unshift({x: 0, y: 0});
  pts.push({x: 120, y: 0});
  return pts;
}

// per-second peaks -> alternating trace (upper then lower peak each second)
function zigzag(hi, lo) {
  const pts = [];
  hi.forEach((h, i) => {
    pts.push({x: i + 0.25, y: h}, {x: i + 0.75, y: lo[i]});
  });
  pts.unshift({x: 0, y: 0});
  pts.push({x: 120, y: 0});
  return pts;
}

const toXY = arr => arr.map(([x, y]) => ({x, y}));

function tickText(v, vals, text) {
  const i = vals.findIndex(t => Math.abs(t / v - 1) < 1e-6);
  return i >= 0 ? text[i] : '';
}

function logGrid(min, max) {
  const out = [];
  for (let e = -2; e <= 4; e++) {
    for (let m = 1; m <= 9; m++) {
      const v = Number((m * Math.pow(10, e)).toPrecision(6));
      if (v >= min * 0.999999 && v <= max * 1.000001) out.push(v);
    }
  }
  return out;
}

// bracket on the left, right edge line of each wave panel (canvas coordinates)
const panelDeco = {
  id: 'panelDeco',
  afterDraw(chart, args, o) {
    const ys = chart.scales.y, ctx = chart.ctx, right = chart.chartArea.right;
    const top = ys.getPixelForValue(o.amp), bot = ys.getPixelForValue(-o.amp);
    ctx.save();
    ctx.strokeStyle = '#000';
    ctx.lineWidth = 1.5;
    ctx.beginPath();
    ctx.moveTo(o.bracketX, top);
    ctx.lineTo(o.bracketX, bot);
    o.marks.forEach(v => {
      const py = ys.getPixelForValue(v);
      ctx.moveTo(o.bracketX, py);
      ctx.lineTo(o.bracketX + 9, py);
    });
    ctx.moveTo(right, top);
    ctx.lineTo(right, bot);
    ctx.stroke();
    ctx.restore();
  }
};

// one-second ticks and P / S arrival marks on a time axis
const timeTicks = {
  id: 'timeTicks',
  afterDraw(chart, args, o) {
    const xs = chart.scales.x, ctx = chart.ctx, y0 = chart.chartArea.bottom;
    ctx.save();
    ctx.strokeStyle = '#000';
    ctx.lineWidth = 1.3;
    ctx.beginPath();
    for (let t = xs.min; t <= xs.max; t++) {
      const len = t % 10 === 0 ? o.major : o.minor;
      const px = xs.getPixelForValue(t);
      ctx.moveTo(px, y0);
      ctx.lineTo(px, y0 + o.dir * len);
    }
    ctx.stroke();
    ctx.strokeStyle = '#0000ff';
    ctx.fillStyle = '#0000ff';
    ctx.lineWidth = 1.6;
    ctx.font = '18px "Liberation Sans"';
    ctx.textBaseline = o.dir > 0 ? 'top' : 'bottom';
    phaseTimes.forEach((t, i) => {
      const px = Math.round(xs.getPixelForValue(t)) + 0.5;
      ctx.beginPath();
      ctx.moveTo(px, y0);
      ctx.lineTo(px, y0 + o.dir * 20);
      ctx.stroke();
      ctx.fillText(phaseNames[i], px + 2, y0 + o.dir * 2);
    });
    ctx.restore();
  }
};

// maximum of the intensity curve
const peakLabel = {
  id: 'peakLabel',
  afterDatasetsDraw(chart) {
    const pts = chart.data.datasets[0].data;
    const top = pts.reduce((a, b) => (b.y > a.y ? b : a));
    const px = chart.scales.x.getPixelForValue(top.x);
    const py = chart.scales.y.getPixelForValue(top.y);
    const ctx = chart.ctx;
    ctx.save();
    ctx.strokeStyle = '#000';
    ctx.lineWidth = 1.5;
    ctx.beginPath();
    ctx.moveTo(px, py - 3);
    ctx.lineTo(px, py - 10);
    ctx.stroke();
    ctx.fillStyle = '#000';
    ctx.font = '19px "Liberation Sans"';
    ctx.textAlign = 'center';
    ctx.textBaseline = 'middle';
    ctx.fillText(top.y.toFixed(2), px + 23, py - 19);
    ctx.restore();
  }
};

// inner tick marks and frame of the spectrum plots
const specFrame = {
  id: 'specFrame',
  afterDatasetsDraw(chart) {
    const {ctx, chartArea: a} = chart;
    const xs = chart.scales.x, ys = chart.scales.y;
    ctx.save();
    ctx.strokeStyle = '#000';
    ctx.lineWidth = 2.5;
    ctx.beginPath();
    ys.ticks.forEach(t => {
      const py = ys.getPixelForValue(t.value);
      ctx.moveTo(a.left, py);
      ctx.lineTo(a.left + 19, py);
    });
    xs.ticks.forEach(t => {
      const px = xs.getPixelForValue(t.value);
      ctx.moveTo(px, a.bottom);
      ctx.lineTo(px, a.bottom - 18);
    });
    ctx.stroke();
    ctx.lineWidth = 3;
    ctx.strokeRect(a.left, a.top, a.right - a.left, a.bottom - a.top);
    ctx.restore();
  }
};

function timeAxis(pad, h) {
  return {
    type: 'linear', min: 0, max: 120, position: 'bottom',
    afterBuildTicks: s => { s.ticks = timeLabels.map((_, i) => ({value: i * 10})); },
    afterFit: s => { s.height = h; s.paddingLeft = 0; s.paddingRight = 0; },
    ticks: {autoSkip: false, maxRotation: 0, padding: pad, font: {size: 22},
            callback: (v, i) => timeLabels[i]},
    grid: {display: false, drawTicks: false},
    border: {display: true, color: '#000', width: 2}
  };
}

// ---- header and top time axis ----
addText('2003/05/26  18h24m30s\u301C', 296, 102, 29);
addText('栗原市栗駒', 951, 100, 29, '"Noto Sans CJK JP", sans-serif');

new Chart(makeCanvas(WAVE_LEFT, 100, 1340, 60), {
  type: 'line',
  data: {datasets: []},
  options: {
    layout: {autoPadding: false, padding: {left: 97, right: 18, top: 0, bottom: 0}},
    scales: {x: timeAxis(11, 42.3), y: {display: false}},
    plugins: {timeTicks: {dir: 1, minor: 5, major: 10}}
  },
  plugins: [timeTicks]
});

// ---- waveform panels ----
const accel = (hi, lo) => ({upper: envelope(hi), lower: envelope(lo), points: zigzag(hi, lo)});
const panels = [
  Object.assign({title: '加速度 NS', titleX: 119, titleY: 180, zero: 247, half: 39.6, amp: 250, ampText: '250.0', unit: 'gal', labelX: 143, unitX: 153, marks: [-250, 0, 250]}, accel(accNsHi, accNsLo)),
  Object.assign({title: '加速度 EW', titleX: 119, titleY: 335, zero: 399.3, half: 39.2, amp: 250, ampText: '250.0', unit: 'gal', labelX: 143, unitX: 153, marks: [-250, 0, 250]}, accel(accEwHi, accEwLo)),
  Object.assign({title: '加速度 UD', titleX: 119, titleY: 450, zero: 515, half: 40, amp: 250, ampText: '250.0', unit: 'gal', labelX: 143, unitX: 153, marks: [-250, 0, 250]}, accel(accUdHi, accUdLo)),
  {title: '速度 NS', titleX: 126, titleY: 550, zero: 615.7, half: 39.5, amp: 25, ampText: '25.00', unit: 'cm/sec', labelX: 141, unitX: 139, marks: [-25, 0, 25], points: toXY(velNS)},
  {title: '速度 EW', titleX: 126, titleY: 640, zero: 708, half: 40, amp: 25, ampText: '25.00', unit: 'cm/sec', labelX: 141, unitX: 139, marks: [-25, 0, 25], points: toXY(velEW)},
  {title: '速度 UD', titleX: 126, titleY: 727, zero: 790, half: 39.5, amp: 25, ampText: '25.00', unit: 'cm/sec', labelX: 141, unitX: 139, marks: [-25, 0, 25], points: toXY(velUD)},
  {title: '変位 NS', titleX: 128, titleY: 806, zero: 870, half: 39.3, amp: 2.5, ampText: '2.50', unit: 'cm', labelX: 147, unitX: 153, marks: [-2.5, 0, 2.5], points: toXY(dispNS)},
  {title: '変位 EW', titleX: 128, titleY: 941, zero: 1045.5, half: 79, amp: 5, ampText: '5.00', unit: 'cm', labelX: 147, unitX: 153, marks: [-5, -2.5, 0, 2.5, 5], points: toXY(dispEW)},
  {title: '変位 UD', titleX: 128, titleY: 1129, zero: 1195.5, half: 39.5, amp: 2.5, ampText: '2.50', unit: 'cm', labelX: 147, unitX: 153, marks: [-2.5, 0, 2.5], points: toXY(dispUD)}
];

panels.forEach(p => {
  const margin = 50;
  const lim = p.amp * (p.half + margin) / p.half;
  const ctx = makeCanvas(WAVE_LEFT, p.zero - p.half - margin, 1340, 2 * (p.half + margin));
  const peak = p.points.reduce((a, b) => (Math.abs(b.y) > Math.abs(a.y) ? b : a));
  const dot = {x: peak.x, y: peak.y + Math.sign(peak.y) * (p.amp / p.half) * 8};
  const datasets = p.upper
    ? [
        {data: p.points, borderColor: '#000', borderWidth: 1, pointRadius: 0, fill: 'origin', backgroundColor: '#000'},
        {data: p.upper, borderWidth: 0, pointRadius: 0, fill: '+1', backgroundColor: 'rgba(0,0,0,0.4)'},
        {data: p.lower, borderWidth: 0, pointRadius: 0}
      ]
    : [{data: p.points, borderColor: '#000', borderWidth: 1.25, pointRadius: 0}];
  datasets.push({data: [dot], showLine: false, pointRadius: 2, pointBackgroundColor: '#000', pointBorderWidth: 0, clip: false});
  new Chart(ctx, {
    type: 'line',
    data: {datasets},
    options: {
      layout: {autoPadding: false, padding: {left: p.labelX - WAVE_LEFT, right: 18, top: 0, bottom: 0}},
      scales: {
        x: {type: 'linear', min: 0, max: 120, display: false},
        y: {
          type: 'linear', min: -lim, max: lim,
          afterBuildTicks: s => { s.ticks = p.marks.map(v => ({value: v})); },
          afterFit: s => { s.width = 197 - p.labelX; s.paddingTop = 0; s.paddingBottom = 0; },
          ticks: {autoSkip: false, crossAlign: 'far', padding: 0, font: {family: '"DejaVu Sans"', size: 19},
                  callback: v => (v === p.amp ? p.ampText : (v === 0 ? '0' : ''))},
          grid: {color: '#000', lineWidth: 1.2, drawTicks: false},
          border: {display: false, dash: [1.5, 1.5]}
        }
      },
      plugins: {panelDeco: {amp: p.amp, marks: p.marks, bracketX: 119 - WAVE_LEFT}}
    },
    plugins: [panelDeco]
  });
  addText(p.title, p.titleX, p.titleY, 29);
  addText(p.unit, p.unitX, p.zero - p.half + 17.5, 19, '"DejaVu Sans", sans-serif');
});

// ---- seismic intensity ----
new Chart(makeCanvas(WAVE_LEFT, 1250, 1340, 322), {
  type: 'line',
  data: {datasets: [{data: toXY(intensity), borderColor: '#000', borderWidth: 3, pointRadius: 0}]},
  options: {
    layout: {autoPadding: false, padding: {left: 0, right: 18, top: 30.2, bottom: 0}},
    scales: {
      x: timeAxis(3.2, 30.4),
      y: {
        type: 'linear', min: -0.77, max: 7.5,
        afterBuildTicks: s => { s.ticks = intensityTicks.map(v => ({value: v})); },
        afterFit: s => { s.width = 97; s.paddingTop = 0; s.paddingBottom = 0; },
        ticks: {crossAlign: 'near', padding: 7, font: {family: '"DejaVu Sans"', size: 20}, callback: v => v.toFixed(1)},
        grid: {color: '#000', lineWidth: 1.2, drawTicks: false},
        border: {display: false, dash: [1.5, 1.5]}
      }
    },
    plugins: {timeTicks: {dir: -1, minor: 8, major: 20}}
  },
  plugins: [timeTicks, peakLabel]
});
addText('計測震度', 200, 1306.5, 26);
addText('(参考値)', 199, 1337.5, 26);

// ---- spectra ----
function drawSpectrum(top, height, xH, padTop, ymax, yVals, yText, yPad, series) {
  new Chart(makeCanvas(1400, top, 790, height), {
    type: 'line',
    data: {datasets: series.map(s => ({data: toXY(s.pts), borderColor: s.color, borderWidth: s.width, pointRadius: 0}))},
    options: {
      layout: {autoPadding: false, padding: {left: 0, right: 24, top: padTop, bottom: 0}},
      scales: {
        x: {
          type: 'logarithmic', min: 0.02, max: 20,
          afterBuildTicks: s => { s.ticks = logGrid(0.02, 20).map(v => ({value: v})); },
          afterFit: s => { s.height = xH; s.paddingLeft = 0; s.paddingRight = 0; },
          ticks: {autoSkip: false, maxRotation: 0, padding: 3.5, font: {size: 22},
                  callback: v => tickText(v, periodTickVals, periodTickText)},
          grid: {color: 'rgb(88,108,88)', lineWidth: 1.4, drawTicks: false},
          border: {display: false}
        },
        y: {
          type: 'logarithmic', min: 0.1, max: ymax,
          afterBuildTicks: s => { s.ticks = logGrid(0.1, ymax).map(v => ({value: v})); },
          afterFit: s => { s.width = 78.8; s.paddingTop = 0; s.paddingBottom = 0; },
          ticks: {autoSkip: false, crossAlign: 'center', padding: yPad, font: {size: 22},
                  callback: v => tickText(v, yVals, yText)},
          grid: {color: 'rgb(150,150,150)', lineWidth: 1, drawTicks: false},
          border: {display: false}
        }
      }
    },
    plugins: [specFrame]
  });
}

drawSpectrum(150, 690, 42, 46.7, 3000, fourierTickVals, fourierTickText, 6, [
  {pts: fourierNS, color: '#ff0000', width: 1.6},
  {pts: fourierEW, color: '#00e000', width: 1.6},
  {pts: fourierUD, color: '#0000ff', width: 1.6}
]);
addText('cm/sec(gal\u00B7sec)', 1479, 183, 17);
addText('0.4Hz band smoothing', 1875, 183, 17);
addText('sec', 2143, 809, 15);
addText('Fourie spectrum', 1662, 860, 29);
addText('N-S', 1899, 860, 29);
addBar(1953, 860, 30, 3, '#ff0000');
addText('E-W', 1992, 860, 29);
addBar(2048, 860, 31, 3, '#00e000');
addText('U-D', 2091, 860, 29);
addBar(2144, 860, 30, 3, '#0000ff');

drawSpectrum(860, 635, 41.7, 44.7, 300, respTickVals, respTickText, 12, [
  {pts: respH, color: '#000000', width: 5},
  {pts: respNS, color: '#ff0000', width: 1.6},
  {pts: respEW, color: '#00e000', width: 1.6},
  {pts: respUD, color: '#0000ff', width: 1.6}
]);
addText('cm/sec', 1479, 891, 17);
addText('h=5%', 1954, 891, 17);
addText('sec', 2144, 1465, 15);
addText('Velocity response spectrum N-S', 1464, 1502, 25);
addBar(1818, 1502, 24, 3, '#ff0000');
addText('E-W', 1854, 1502, 25);
addBar(1901, 1502, 25, 3, '#00e000');
addText('U-D', 1937, 1502, 25);
addBar(1985, 1502, 23, 3, '#0000ff');
addText('Horizon', 2016, 1502, 25);
addBar(2106, 1502, 25, 5, '#000000');
</script>
</body>
</html>
